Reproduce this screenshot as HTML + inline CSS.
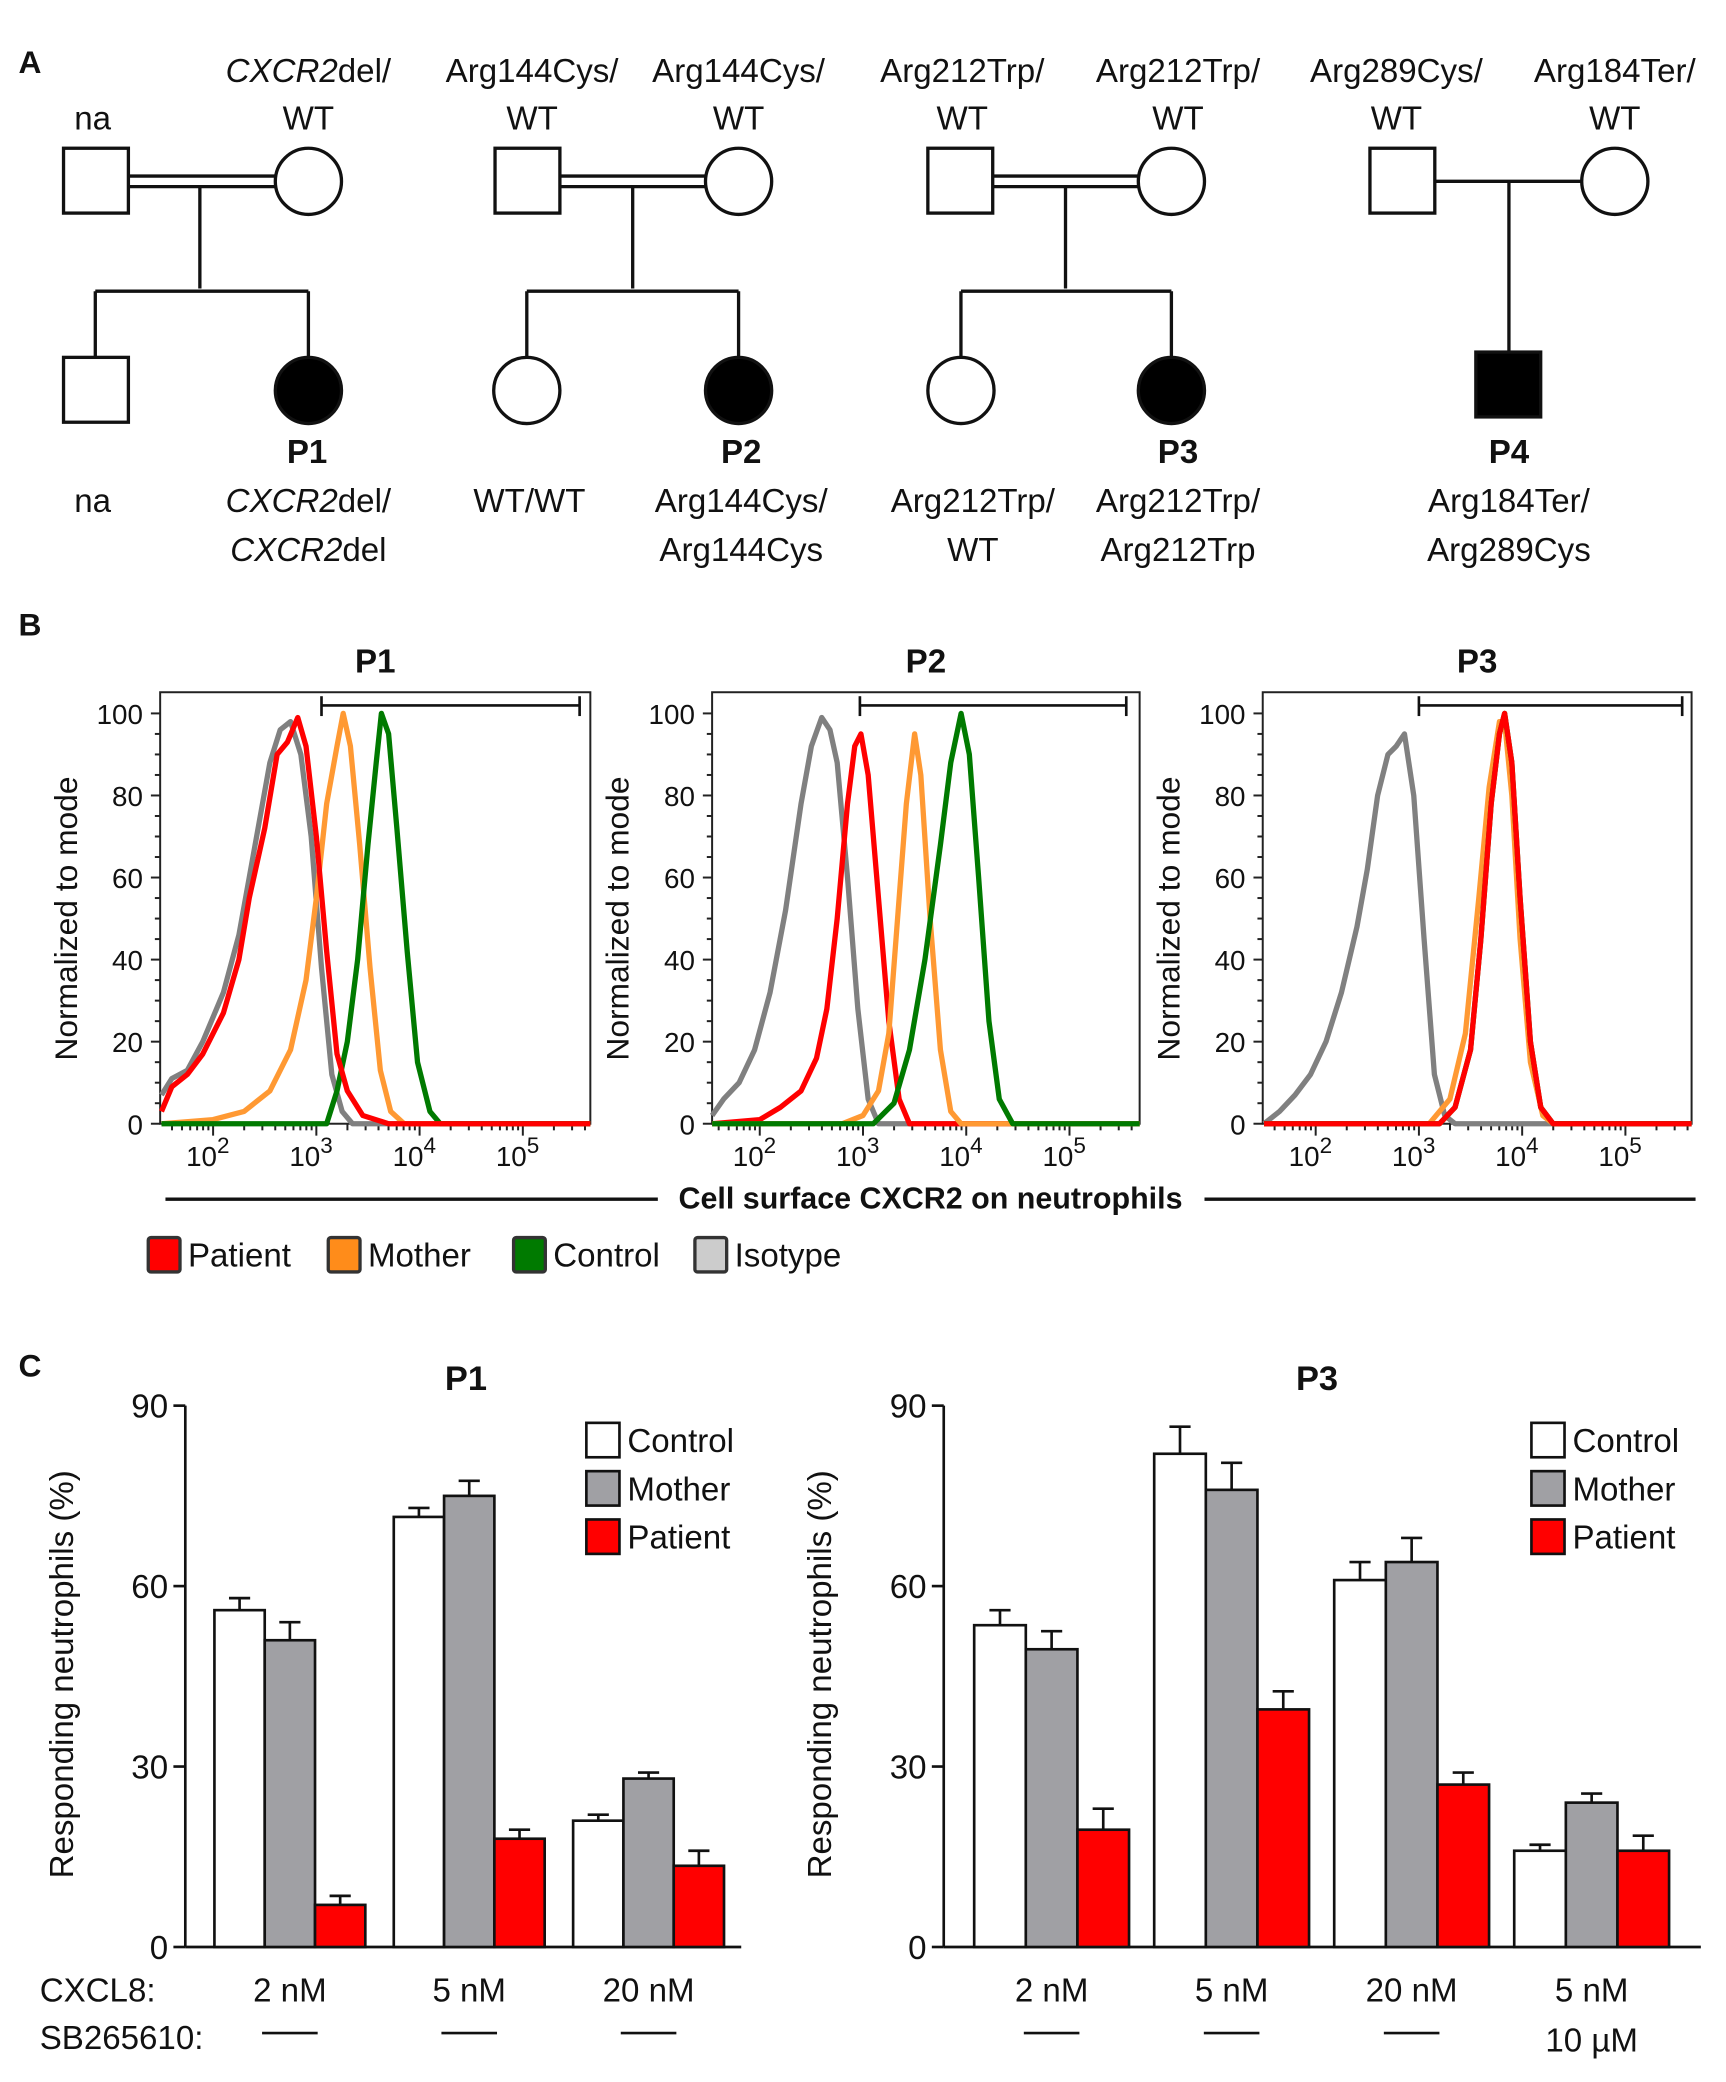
<!DOCTYPE html>
<html><head><meta charset="utf-8"><style>
html,body{margin:0;padding:0;background:#fff}
svg{display:block}
text{font-family:"Liberation Sans",sans-serif;fill:#111}
</style></head><body>
<svg id="fig" width="1726" height="2082" viewBox="0 0 1304 1573" preserveAspectRatio="none">
<g id="pedA" stroke="#111" stroke-width="2.5" fill="#fff" font-size="25">
<text x="14" y="55" font-size="24" stroke="none" fill="#555" font-weight="bold">A</text>
<line x1="97" y1="133" x2="208" y2="133"/><line x1="97" y1="141" x2="208" y2="141"/>
<line x1="151" y1="141" x2="151" y2="218"/><line x1="72" y1="220" x2="233" y2="220"/>
<line x1="72" y1="220" x2="72" y2="270"/><line x1="233" y1="220" x2="233" y2="270"/>
<rect x="48" y="112" width="49" height="49"/>
<circle cx="233" cy="137" r="25"/>
<rect x="48" y="270" width="49" height="49"/>
<circle cx="233" cy="295" r="25" fill="#000"/>
<line x1="423" y1="133" x2="534" y2="133"/><line x1="423" y1="141" x2="534" y2="141"/>
<line x1="478" y1="141" x2="478" y2="218"/><line x1="398" y1="220" x2="558" y2="220"/>
<line x1="398" y1="220" x2="398" y2="270"/><line x1="558" y1="220" x2="558" y2="270"/>
<rect x="374" y="112" width="49" height="49"/>
<circle cx="558" cy="137" r="25"/>
<circle cx="398" cy="295" r="25"/>
<circle cx="558" cy="295" r="25" fill="#000"/>
<line x1="750" y1="133" x2="861" y2="133"/><line x1="750" y1="141" x2="861" y2="141"/>
<line x1="805" y1="141" x2="805" y2="218"/><line x1="726" y1="220" x2="885" y2="220"/>
<line x1="726" y1="220" x2="726" y2="270"/><line x1="885" y1="220" x2="885" y2="270"/>
<rect x="701" y="112" width="49" height="49"/>
<circle cx="885" cy="137" r="25"/>
<circle cx="726" cy="295" r="25"/>
<circle cx="885" cy="295" r="25" fill="#000"/>
<line x1="1084" y1="137" x2="1195" y2="137"/><line x1="1140" y1="137" x2="1140" y2="266"/>
<rect x="1035" y="112" width="49" height="49"/>
<circle cx="1220" cy="137" r="25"/>
<rect x="1115" y="266" width="49" height="49" fill="#000"/>
<g stroke="none" fill="#111" text-anchor="middle">
<text x="70" y="98">na</text>
<text x="233" y="62"><tspan font-style="italic">CXCR2</tspan>del/</text><text x="233" y="98">WT</text>
<text x="402" y="62">Arg144Cys/</text><text x="402" y="98">WT</text>
<text x="558" y="62">Arg144Cys/</text><text x="558" y="98">WT</text>
<text x="727" y="62">Arg212Trp/</text><text x="727" y="98">WT</text>
<text x="890" y="62">Arg212Trp/</text><text x="890" y="98">WT</text>
<text x="1055" y="62">Arg289Cys/</text><text x="1055" y="98">WT</text>
<text x="1220" y="62">Arg184Ter/</text><text x="1220" y="98">WT</text>
<text x="232" y="350" font-weight="bold">P1</text>
<text x="560" y="350" font-weight="bold">P2</text>
<text x="890" y="350" font-weight="bold">P3</text>
<text x="1140" y="350" font-weight="bold">P4</text>
<text x="70" y="387">na</text>
<text x="233" y="387"><tspan font-style="italic">CXCR2</tspan>del/</text><text x="233" y="424"><tspan font-style="italic">CXCR2</tspan>del</text>
<text x="400" y="387">WT/WT</text>
<text x="560" y="387">Arg144Cys/</text><text x="560" y="424">Arg144Cys</text>
<text x="735" y="387">Arg212Trp/</text><text x="735" y="424">WT</text>
<text x="890" y="387">Arg212Trp/</text><text x="890" y="424">Arg212Trp</text>
<text x="1140" y="387">Arg184Ter/</text><text x="1140" y="424">Arg289Cys</text>
</g>
</g>
<g id="panelB"></g>
<g id="panelC"></g>
</svg>
<script>
const NS='http://www.w3.org/2000/svg';
function mk(p,tag,a,txt){const e=document.createElementNS(NS,tag);for(const k in a)e.setAttribute(k,a[k]);if(txt!==undefined)e.textContent=txt;p.appendChild(e);return e;}

const p1Isotype=[[1.5,7],[1.6,11],[1.75,13],[1.9,20],[2.1,32],[2.25,46],[2.35,60],[2.45,74],[2.55,88],[2.65,96],[2.75,98],[2.85,90],[2.95,70],[3.05,38],[3.15,12],[3.25,3],[3.35,0],[5.7,0]];
const p1Patient=[[1.5,3],[1.6,9],[1.75,12],[1.9,17],[2.1,27],[2.25,40],[2.35,55],[2.5,72],[2.62,90],[2.72,93],[2.82,99],[2.9,92],[3.0,70],[3.1,42],[3.2,17],[3.3,8],[3.45,2],[3.7,0],[5.7,0]];
const p1Mother=[[1.5,0],[2.0,1],[2.3,3],[2.55,8],[2.75,18],[2.9,35],[3.0,55],[3.1,78],[3.2,92],[3.26,100],[3.33,92],[3.42,68],[3.52,38],[3.62,13],[3.72,3],[3.85,0],[5.7,0]];
const p1Control=[[1.5,0],[3.1,0],[3.2,8],[3.3,20],[3.4,40],[3.5,68],[3.58,88],[3.63,100],[3.7,95],[3.78,72],[3.88,42],[3.98,15],[4.1,3],[4.2,0],[5.7,0]];
const p2Isotype=[[1.5,2],[1.65,6],[1.8,10],[1.95,18],[2.1,32],[2.25,52],[2.4,78],[2.5,92],[2.6,99],[2.68,96],[2.75,88],[2.85,60],[2.95,28],[3.05,6],[3.15,0],[5.7,0]];
const p2Patient=[[1.5,0],[2.0,1],[2.2,4],[2.4,8],[2.55,16],[2.65,28],[2.75,50],[2.85,78],[2.92,92],[2.98,95],[3.05,85],[3.15,55],[3.25,25],[3.35,6],[3.45,0],[5.7,0]];
const p2Mother=[[1.5,0],[2.8,0],[3.0,2],[3.15,8],[3.25,22],[3.35,55],[3.42,78],[3.5,95],[3.56,85],[3.65,50],[3.75,18],[3.85,3],[3.95,0],[5.7,0]];
const p2Control=[[1.5,0],[3.1,0],[3.3,5],[3.45,18],[3.6,40],[3.75,68],[3.85,88],[3.95,100],[4.03,90],[4.12,60],[4.22,25],[4.32,6],[4.45,0],[5.7,0]];
const p3Isotype=[[1.5,0],[1.65,3],[1.8,7],[1.95,12],[2.1,20],[2.25,32],[2.4,48],[2.5,62],[2.6,80],[2.7,90],[2.78,92],[2.86,95],[2.95,80],[3.05,45],[3.15,12],[3.25,2],[3.35,0],[5.7,0]];
const p3Patient=[[1.5,0],[3.2,0],[3.35,4],[3.5,18],[3.6,45],[3.7,78],[3.78,95],[3.83,100],[3.9,88],[3.98,55],[4.08,20],[4.18,4],[4.3,0],[5.7,0]];
const p3Mother=[[1.5,0],[3.1,0],[3.3,6],[3.45,22],[3.58,55],[3.68,82],[3.78,98],[3.83,98],[3.9,80],[3.98,45],[4.08,15],[4.2,2],[4.3,0],[5.7,0]];
const p3Control=[[1.5,0],[3.2,0],[3.35,4],[3.5,18],[3.6,45],[3.7,78],[3.78,95],[3.83,100],[3.9,88],[3.98,55],[4.08,20],[4.18,4],[4.3,0],[5.7,0]];
const yTicksB=[0,20,40,60,80,100];
const xDecadesB=[2,3,4,5];

const colors={Isotype:'#808080',Patient:'#ff0000',Mother:'#ff9933',Control:'#007a00'};
const histPlots=[
 {title:'P1',x0:121,x1:446,dec2:161,gate:[3.05,5.55],series:{Isotype:p1Isotype,Mother:p1Mother,Control:p1Control,Patient:p1Patient}},
 {title:'P2',x0:538,x1:861,dec2:574,gate:[2.97,5.55],series:{Isotype:p2Isotype,Patient:p2Patient,Mother:p2Mother,Control:p2Control}},
 {title:'P3',x0:954,x1:1278,dec2:994,gate:[3.0,5.55],series:{Isotype:p3Isotype,Mother:p3Mother,Control:p3Control,Patient:p3Patient}}
];
const B=document.getElementById('panelB');
const bl=mk(B,'text',{x:14,y:480,'font-size':24,'font-weight':'bold',fill:'#555'},'B');


const yB0=849,yB100=539,decW=78;
histPlots.forEach((pl,i)=>{
 const g=mk(B,'g',{});
 
 
 const sx=v=>pl.dec2+(v-2)*decW;
 const sy=v=>yB0-(v/100)*(yB0-yB100);
 mk(g,'rect',{x:pl.x0,y:523,width:pl.x1-pl.x0,height:yB0-523,fill:'none',stroke:'#222','stroke-width':1.5});
 const t=mk(g,'text',{x:(pl.x0+pl.x1)/2,y:508,'font-size':25,'font-weight':'bold','text-anchor':'middle'},pl.title);
 
 
 const yl=mk(g,'text',{transform:`translate(${pl.x0-63},${(yB0+523)/2+8}) rotate(-90)`,'font-size':24,'text-anchor':'middle'},'Normalized to mode');
 
 
 for(let v=0;v<=100;v+=5){const y=sy(v);mk(g,'line',{x1:pl.x0-(v%20===0?7:4),x2:pl.x0,y1:y,y2:y,stroke:'#222','stroke-width':1.5});}
 yTicksB.forEach(v=>{const tl=mk(g,'text',{x:pl.x0-13,y:sy(v)+8,'font-size':21,'text-anchor':'end'},String(v));
  });
 for(let d=1;d<=5;d++){for(let m=1;m<=9;m++){const lv=d+Math.log10(m);const x=sx(lv);if(x<pl.x0||x>pl.x1)continue;
  mk(g,'line',{x1:x,x2:x,y1:yB0,y2:yB0+(m===1?9:5),stroke:'#222','stroke-width':1.5});}}
 xDecadesB.forEach(d=>{const tx=mk(g,'text',{x:sx(d)-4,y:yB0+32,'font-size':21,'text-anchor':'middle'});
  
  mk(tx,'tspan',{},'10');mk(tx,'tspan',{dy:-10,'font-size':17},String(d));});
 const ga=sx(pl.gate[0]),gb=sx(pl.gate[1]);
 const gate=mk(g,'g',{stroke:'#111','stroke-width':2});
 
 mk(gate,'line',{x1:ga,x2:gb,y1:533,y2:533});mk(gate,'line',{x1:ga,x2:ga,y1:526,y2:541});mk(gate,'line',{x1:gb,x2:gb,y1:526,y2:541});
 for(const k in pl.series){
  const pts=pl.series[k].map(p=>[Math.max(pl.x0,Math.min(pl.x1,sx(p[0]))),sy(p[1])]);
  const path=mk(g,'path',{d:'M'+pts.map(p=>p.join(',')).join('L'),fill:'none',stroke:colors[k],'stroke-width':4,'stroke-linejoin':'round'});
  
  
 }
});
mk(B,'line',{x1:125,x2:497,y1:906,y2:906,stroke:'#111','stroke-width':2.5});
mk(B,'line',{x1:910,x2:1281,y1:906,y2:906,stroke:'#111','stroke-width':2.5});
const xt=mk(B,'text',{x:703,y:913,'font-size':23,'font-weight':'bold','text-anchor':'middle'},'Cell surface CXCR2 on neutrophils');

const legB=[['Patient',112,'#ff0000'],['Mother',248,'#ff8c1a'],['Control',388,'#007a00'],['Isotype',525,'#cccccc']];
legB.forEach(([n,x,c])=>{const lg=mk(B,'g',{});
 
 mk(lg,'rect',{x:x,y:935,width:24,height:26,fill:c,stroke:'#333','stroke-width':2.5,rx:2});
 mk(lg,'text',{x:x+30,y:957,'font-size':25},n);});

const catsP1=['2 nM','5 nM','20 nM'];
const p1Ctrl=[56,71.5,21], p1CtrlErr=[2,1.5,1];
const p1Moth=[51,75,28], p1MothErr=[3,2.5,1];
const p1Pat=[7,18,13.5], p1PatErr=[1.5,1.5,2.5];
const catsP3=['2 nM','5 nM','20 nM','5 nM'];
const sbP3=['—','—','—','10 µM'];
const p3Ctrl=[53.5,82,61,16], p3CtrlErr=[2.5,4.5,3,1];
const p3Moth=[49.5,76,64,24], p3MothErr=[3,4.5,4,1.5];
const p3Pat=[19.5,39.5,27,16], p3PatErr=[3.5,3,2,2.5];
const yTicksC=[0,30,60,90];

const C=document.getElementById('panelC');
const cl=mk(C,'text',{x:14,y:1040,'font-size':24,'font-weight':'bold',fill:'#555'},'C');

const yC0=1471,yC90=1062;
const syC=v=>yC0-v/90*(yC0-yC90);
function barChart(opt){
 const g=mk(C,'g',{});
 
 
 mk(g,'line',{x1:opt.ax,x2:opt.ax,y1:yC90,y2:yC0,stroke:'#111','stroke-width':2});
 mk(g,'line',{x1:opt.ax,x2:opt.axEnd,y1:yC0,y2:yC0,stroke:'#111','stroke-width':2});
 yTicksC.forEach(v=>{mk(g,'line',{x1:opt.ax-9,x2:opt.ax,y1:syC(v),y2:syC(v),stroke:'#111','stroke-width':2});
  const tl=mk(g,'text',{x:opt.ax-13,y:syC(v)+9,'font-size':25,'text-anchor':'end'},String(v));
  });
 const t=mk(g,'text',{x:opt.titleX,y:1050,'font-size':26,'font-weight':'bold','text-anchor':'middle'},opt.title);
 
 const yl=mk(g,'text',{transform:`translate(${opt.ax-85},${1265}) rotate(-90)`,'font-size':25,'text-anchor':'middle'},'Responding neutrophils (%)');
 
 const series=[['control',opt.ctrl,opt.ctrlE,'#fff'],['mother',opt.moth,opt.mothE,'#a0a0a4'],['patient',opt.pat,opt.patE,'#ff0000']];
 opt.cats.forEach((c,i)=>{
  const gx=opt.ax+opt.first+i*opt.step;
  series.forEach(([n,vals,errs,col],j)=>{
   const x=gx+j*opt.bw, v=vals[i], e=errs[i], cx=x+opt.bw/2;
   mk(g,'line',{x1:cx,x2:cx,y1:syC(v),y2:syC(v+e),stroke:'#111','stroke-width':2});
   mk(g,'line',{x1:cx-8,x2:cx+8,y1:syC(v+e),y2:syC(v+e),stroke:'#111','stroke-width':2});
   const r=mk(g,'rect',{x:x,y:syC(v),width:opt.bw,height:yC0-syC(v),fill:col,stroke:'#111','stroke-width':2});
   
  });
  const lx=gx+opt.bw*1.5;
  const tl=mk(g,'text',{x:lx,y:1512,'font-size':25,'text-anchor':'middle'},c);
  
  const sb=opt.sb[i];
  if(sb==='—'){mk(g,'line',{x1:lx-21,x2:lx+21,y1:1536,y2:1536,stroke:'#111','stroke-width':2});}
  else{mk(g,'text',{x:lx,y:1550,'font-size':25,'text-anchor':'middle'},sb);}
 });
 [['Control','#fff'],['Mother','#a0a0a4'],['Patient','#ff0000']].forEach(([n,col],k)=>{
  const lg=mk(g,'g',{});
  
  mk(lg,'rect',{x:opt.legX,y:1075+k*36.5,width:25,height:26,fill:col,stroke:'#111','stroke-width':2});
  mk(lg,'text',{x:opt.legX+31,y:1097+k*36.5,'font-size':25},n);
 });
}
barChart({title:'P1',titleX:352,ax:140,axEnd:560,first:22,step:135.5,bw:38,cats:catsP1,sb:['—','—','—'],
 ctrl:p1Ctrl,ctrlE:p1CtrlErr,moth:p1Moth,mothE:p1MothErr,pat:p1Pat,patE:p1PatErr,legX:443});
barChart({title:'P3',titleX:995,ax:713,axEnd:1285,first:23,step:136,bw:39,cats:catsP3,sb:sbP3,
 ctrl:p3Ctrl,ctrlE:p3CtrlErr,moth:p3Moth,mothE:p3MothErr,pat:p3Pat,patE:p3PatErr,legX:1157});
const cx1=mk(C,'text',{x:30,y:1512,'font-size':25},'CXCL8:');

const cx2=mk(C,'text',{x:30,y:1548,'font-size':25},'SB265610:');

</script>
</body></html>
